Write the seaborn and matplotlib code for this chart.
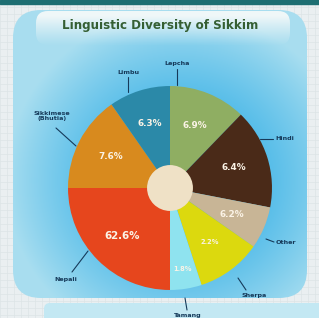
import numpy as np
import matplotlib
matplotlib.use("Agg")
import matplotlib.pyplot as plt
import seaborn as sns
from matplotlib.patches import FancyBboxPatch, Rectangle, Circle

# ---- data ----
languages = ["Lepcha", "Hindi", "Other", "Sherpa", "Tamang", "Nepali", "Sikkimese\n(Bhutia)", "Limbu"]
share_labels = ["6.9%", "6.4%", "6.2%", "2.2%", "1.8%", "62.6%", "7.6%", "6.3%"]
# the infographic's slices are stylised (not proportional); sweep angles in degrees as drawn
slice_deg = [44, 57, 24, 37, 18, 90, 55, 35]
title = "Linguistic Diversity of Sikkim"

colors = ["#8fae62", "#4a2a18", "#c8b596", "#dcd90e", "#8fe3ef",
          "#e6461d", "#d88a1e", "#2b89a8"]

sns.set_theme(style="white")
plt.rcParams["font.family"] = ["DejaVu Sans"]

W, H = 319, 318
fig = plt.figure(figsize=(W / 100, H / 100), dpi=100)
fig.patch.set_facecolor("#eaeff1")

# background axes in pixel coordinates
bg = fig.add_axes([0, 0, 1, 1])
bg.set_xlim(0, W)
bg.set_ylim(H, 0)
bg.axis("off")

# faint grid pattern
for v in np.arange(0, W, 7):
    bg.plot([v, v], [0, H], color="#dde4e6", lw=0.5, zorder=0)
for v in np.arange(0, H, 7):
    bg.plot([0, W], [v, v], color="#dde4e6", lw=0.5, zorder=0)
bg.add_patch(Rectangle((0, 0), W, 4, color="#1d6e72", zorder=1))

# blue rounded panel with radial gradient
panel = FancyBboxPatch((13, 10), 294, 288, boxstyle="round,pad=0,rounding_size=28",
                       facecolor="none", edgecolor="none", zorder=2)
bg.add_patch(panel)
yy, xx = np.mgrid[0:H, 0:W]
d = np.sqrt(((xx - 180) / 175.0) ** 2 + ((yy - 180) / 170.0) ** 2)
d = np.clip(d, 0, 1)
c0 = np.array([0.16, 0.67, 0.90])
c1 = np.array([0.66, 0.87, 0.94])
img = c0[None, None, :] * (1 - d[..., None] ** 1.5) + c1[None, None, :] * d[..., None] ** 1.5
im = bg.imshow(img, extent=(0, W, H, 0), zorder=2, aspect="auto")
im.set_clip_path(panel)

# title band: white fading downward
band = FancyBboxPatch((36, 11), 254, 34, boxstyle="round,pad=0,rounding_size=12",
                      facecolor="none", edgecolor="none", zorder=3)
bg.add_patch(band)
t = np.linspace(0, 1, 64)
alpha = np.clip(1.15 - t * 1.1, 0, 1) ** 1.2
band_img = np.ones((64, 2, 4))
band_img[..., 0] = 0.96
band_img[..., 1] = 0.98
band_img[..., 2] = 0.98
band_img[..., 3] = alpha[:, None] * 0.95
bim = bg.imshow(band_img, extent=(36, 290, 45, 11), zorder=3, aspect="auto")
bim.set_clip_path(band)
bg.text(160, 26, title, ha="center", va="center", fontsize=8.6,
        fontweight="heavy", color="#355f33", zorder=4)

# bottom light panel
bg.add_patch(FancyBboxPatch((44, 303), 290, 30, boxstyle="round,pad=0,rounding_size=6",
                            facecolor="#c3e8f3", edgecolor="none", zorder=3))

# pie axes: centre ~ (170,188), radius ~103 px
cx, cy, r = 170, 188, 103
pa = fig.add_axes([(cx - r) / W, (H - cy - r) / H, 2 * r / W, 2 * r / H])
pa.set_zorder(5)
wedges, _ = pa.pie(slice_deg, colors=colors, startangle=90, counterclock=False,
                   radius=1, wedgeprops=dict(linewidth=0))
pa.add_patch(Circle((0, 0), 0.225, facecolor="#efe1c6", edgecolor="none", zorder=6))
pa.set_xlim(-1.01, 1.01)
pa.set_ylim(-1.01, 1.01)
pa.set_aspect("equal")
pa.axis("off")

# percentage labels inside wedges
for w, lab, lang in zip(wedges, share_labels, languages):
    mid = np.deg2rad((w.theta1 + w.theta2) / 2)
    rr = 0.66 if lang != "Tamang" else 0.80
    fs = 7.4 if lang == "Nepali" else (6.4 if lang not in ("Sherpa", "Tamang") else 4.8)
    pa.text(rr * np.cos(mid), rr * np.sin(mid), lab, ha="center", va="center",
            fontsize=fs, fontweight="bold", color="#fbf3e6", zorder=7)

# outer labels with leader lines (pixel layout)
label_layout = {
    "Lepcha": ((177, 64), "center", [(177, 69), (177, 85)]),
    "Limbu": ((128, 72), "center", [(128, 77), (128, 92)]),
    "Sikkimese\n(Bhutia)": ((52, 116), "center", [(56, 128), (76, 146)]),
    "Hindi": ((275, 139), "left", [(260, 139), (273, 139)]),
    "Other": ((276, 242), "left", [(266, 239), (274, 242)]),
    "Sherpa": ((242, 295), "left", [(238, 278), (246, 290)]),
    "Tamang": ((188, 316), "center", [(185, 298), (187, 310)]),
    "Nepali": ((66, 279), "center", [(72, 272), (88, 251)]),
}
for lang, ((tx, ty), ha, line) in label_layout.items():
    (x0, y0), (x1, y1) = line
    bg.plot([x0, x1], [y0, y1], color="#163a5a", lw=0.8, zorder=4)
    bg.text(tx, ty, lang, ha=ha, va="center", fontsize=4.6, color="#163a5a",
            fontweight="bold", zorder=4, linespacing=1.1)

fig.savefig("out.png", dpi=100)
